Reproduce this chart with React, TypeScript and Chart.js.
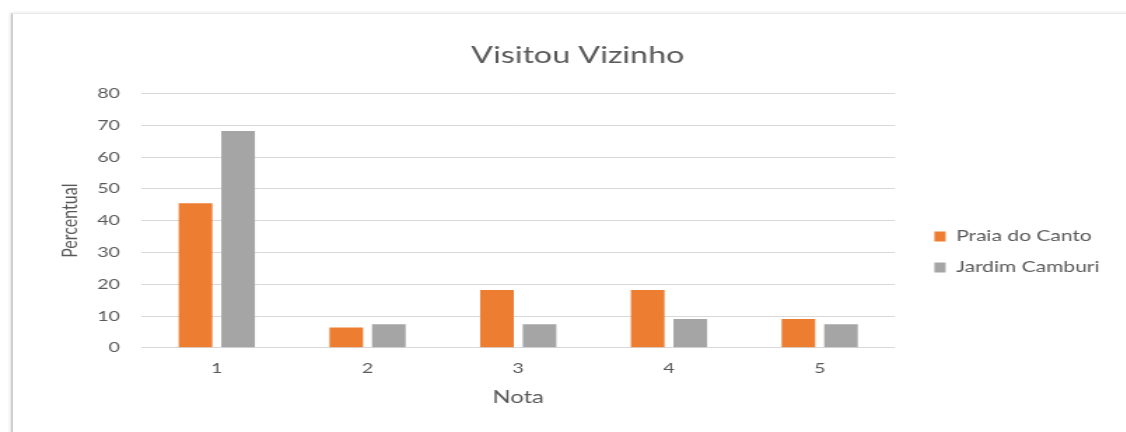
import React, { useEffect, useRef } from "react";
import { Chart, registerables } from "chart.js";

Chart.register(...registerables);

// ---- data ----
const categories = ["1", "2", "3", "4", "5"];
const praiaDoCanto = [45.5, 6.4, 18.2, 18.2, 9.1];
const jardimCamburi = [68.2, 7.4, 7.4, 9.1, 7.4];
const seriesNames = ["Praia do Canto", "Jardim Camburi"];
const seriesColors = ["#ED7D31", "#A5A5A5"];
const yMin = 0;
const yMax = 80;
const yStep = 10;
const chartTitle = "Visitou Vizinho";
const xTitle = "Nota";
const yTitle = "Percentual";

// the reference image is stretched horizontally
const SX = 1.4;
const W = 805;
const H = 432;
const FONT = "Lato, 'Open Sans', sans-serif";
const TXT = "#595959";

export default function App() {
  const ref = useRef<HTMLCanvasElement | null>(null);

  useEffect(() => {
    if (!ref.current) return;
    const chart = new Chart(ref.current, {
      type: "bar",
      data: {
        labels: categories,
        datasets: [
          {
            label: seriesNames[0],
            data: praiaDoCanto,
            backgroundColor: seriesColors[0],
            yAxisID: "y",
            categoryPercentage: 0.565,
            barPercentage: 0.79,
          },
          {
            label: seriesNames[1],
            data: jardimCamburi,
            backgroundColor: seriesColors[1],
            yAxisID: "y",
            categoryPercentage: 0.565,
            barPercentage: 0.79,
          },
        ],
      },
      options: {
        animation: false,
        responsive: true,
        maintainAspectRatio: false,
        layout: { padding: { left: 30, right: 9.6, top: 0, bottom: 21 } },
        plugins: {
          title: {
            display: true,
            text: chartTitle,
            color: TXT,
            font: { family: FONT, size: 23, weight: "normal" },
            padding: { top: 42, bottom: 24 },
          },
          legend: {
            display: true,
            position: "right",
            align: "center",
            maxWidth: 300,
            title: {
              display: true,
              text: "",
              font: { family: FONT, size: 1 },
              padding: { top: 92, bottom: 0 },
            },
            labels: {
              boxWidth: 8,
              boxHeight: 10,
              padding: 16,
              color: TXT,
              font: { family: FONT, size: 15 },
            },
          },
          tooltip: { enabled: false },
        },
        scales: {
          x: {
            grid: { display: false, drawTicks: false },
            border: { display: false },
            ticks: {
              color: TXT,
              font: { family: FONT, size: 14 },
              padding: 12,
            },
            title: {
              display: true,
              text: xTitle,
              color: TXT,
              font: { family: FONT, size: 17 },
              padding: { top: -1, bottom: 3 },
            },
          },
          y: {
            min: yMin,
            max: yMax,
            grid: { color: "#d9d9d9", lineWidth: 1, drawTicks: false },
            border: { display: false },
            ticks: {
              stepSize: yStep,
              color: TXT,
              font: { family: FONT, size: 14 },
              padding: 15.4,
            },
            title: {
              display: true,
              text: yTitle,
              color: TXT,
              font: { family: FONT, size: 16, lineHeight: 1 },
              padding: { top: 11.6, bottom: -3.6 },
            },
          },
          gap: {
            axis: "y",
            type: "linear",
            position: "right",
            display: true,
            grid: { display: false, drawTicks: false },
            border: { display: false },
            ticks: { display: false },
            afterFit: (s: any) => {
              s.width = 12.1;
            },
          },
        },
      },
    } as any);
    return () => chart.destroy();
  }, []);

  return (
    <div
      style={{
        position: "fixed",
        left: 0,
        top: 0,
        width: 1126,
        height: 432,
        overflow: "hidden",
        background: "#ffffff",
      }}
    >
      <div
        style={{
          position: "absolute",
          left: 11,
          top: 13,
          width: 1200,
          height: 500,
          background: "#ffffff",
          borderLeft: "2px solid #cfcfcf",
          borderTop: "1px solid #e8e8e8",
          boxShadow: "-1px 0 3px rgba(0,0,0,0.12)",
        }}
      />
      <div
        style={{
          position: "absolute",
          left: 0,
          top: 0,
          width: W,
          height: H,
          transform: `scaleX(${SX})`,
          transformOrigin: "0 0",
        }}
      >
        <canvas ref={ref} />
      </div>
    </div>
  );
}
